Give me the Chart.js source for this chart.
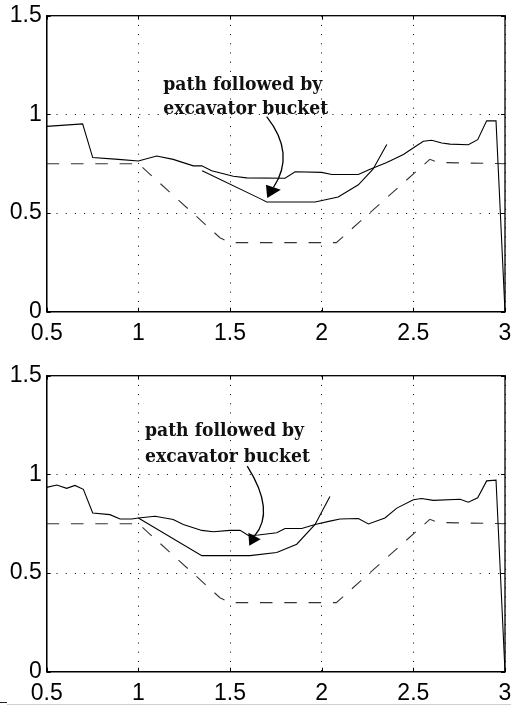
<!DOCTYPE html>
<html>
<head>
<meta charset="utf-8">
<script src="https://cdn.jsdelivr.net/npm/chart.js@4.4.1/dist/chart.umd.min.js"></script>
<style>
  html, body { margin: 0; padding: 0; background: #fff; }
  body { width: 511px; height: 707px; overflow: hidden; position: relative; }
  .plot { position: absolute; left: 0; width: 518px; height: 343px; }
  #p1 { top: 0; }
  #p2 { top: 360px; }
  .edge { position: absolute; top: 704px; left: 7px; width: 504px; height: 1px; background: #cfcfcf; }
  .nub { position: absolute; top: 702px; left: 0; width: 7px; height: 1px; background: #222; }
</style>
</head>
<body>
<div class="plot" id="p1"><canvas id="c1" width="518" height="343"></canvas></div>
<div class="plot" id="p2"><canvas id="c2" width="518" height="343"></canvas></div>
<div class="nub"></div>
<div class="edge"></div>
<script>
// design profile (dashed), same in both plots
const designX = [0.5, 1.0, 1.445, 1.5, 2.08, 2.59, 2.636, 3.0];
const designY = [0.75, 0.75, 0.375, 0.35, 0.35, 0.772, 0.756, 0.75];

// top plot: terrain surface and bucket path
const groundTopX = [0.5, 0.696, 0.751, 0.891, 1.0, 1.10, 1.19, 1.30, 1.346, 1.40, 1.518, 1.591, 1.80, 1.855, 2.0, 2.055, 2.20, 2.264, 2.355, 2.446, 2.509, 2.555, 2.60, 2.655, 2.70, 2.80, 2.851, 2.90, 2.951, 3.0];
const groundTopY = [0.939, 0.952, 0.781, 0.772, 0.764, 0.789, 0.772, 0.739, 0.739, 0.714, 0.686, 0.678, 0.676, 0.709, 0.706, 0.695, 0.695, 0.722, 0.756, 0.797, 0.836, 0.864, 0.869, 0.855, 0.849, 0.846, 0.872, 0.967, 0.967, 0];
const pathTopX = [1.348, 1.664, 1.70, 1.964, 2.09, 2.20, 2.28, 2.355];
const pathTopY = [0.714, 0.573, 0.556, 0.556, 0.581, 0.643, 0.722, 0.847];

// bottom plot
const groundBotX = [0.5, 0.555, 0.609, 0.654, 0.70, 0.751, 0.845, 0.90, 0.964, 1.0, 1.091, 1.19, 1.245, 1.346, 1.409, 1.50, 1.555, 1.60, 1.654, 1.755, 1.80, 1.891, 1.964, 2.045, 2.10, 2.20, 2.255, 2.345, 2.41, 2.50, 2.545, 2.609, 2.755, 2.80, 2.851, 2.90, 2.951, 3.0];
const groundBotY = [0.934, 0.946, 0.929, 0.944, 0.924, 0.804, 0.796, 0.774, 0.774, 0.779, 0.788, 0.771, 0.746, 0.716, 0.709, 0.716, 0.716, 0.69, 0.693, 0.704, 0.726, 0.726, 0.746, 0.763, 0.774, 0.776, 0.749, 0.779, 0.829, 0.871, 0.878, 0.868, 0.874, 0.859, 0.881, 0.967, 0.971, 0];
const pathBotX = [1.0, 1.346, 1.609, 1.755, 1.864, 1.964, 2.045];
const pathBotY = [0.779, 0.588, 0.588, 0.604, 0.646, 0.746, 0.888];

const xTicks = [0.5, 1, 1.5, 2, 2.5, 3];
const yTicks = [0, 0.5, 1, 1.5];
const noteLines = ['path followed by', 'excavator bucket'];
const noteWidths = [159, 165];

function pts(xs, ys){ return xs.map((x, i) => ({x: x, y: ys[i]})); }

// text + curved arrow, placed in data units
const notes = {
  c1: { x: 1.136, y: [1.123, 1.003], s: [1.700, 0.989], c: [1.859, 0.802], e: [1.737, 0.630],
        tri: [[1.696, 0.643], [1.777, 0.618], [1.703, 0.576]] },
  c2: { x: 1.036, y: [1.195, 1.065], s: [1.594, 1.042], c: [1.749, 0.814], e: [1.634, 0.688],
        tri: [[1.600, 0.704], [1.667, 0.671], [1.605, 0.638]] }
};

const framePlugin = {
  id: 'frame',
  afterDatasetsDraw(chart){
    const ctx = chart.ctx, a = chart.chartArea, sx = chart.scales.x, sy = chart.scales.y;
    const n = notes[chart.canvas.id];
    const P = (p) => [sx.getPixelForValue(p[0]), sy.getPixelForValue(p[1])];
    ctx.save();
    // annotation text
    ctx.fillStyle = '#111';
    ctx.font = 'bold 19px "DejaVu Serif"';
    ctx.textAlign = 'left';
    ctx.textBaseline = 'alphabetic';
    noteLines.forEach((t, i) => ctx.fillText(t, sx.getPixelForValue(n.x), sy.getPixelForValue(n.y[i]), noteWidths[i]));
    // arrow
    const s = P(n.s), c = P(n.c), e = P(n.e);
    ctx.strokeStyle = '#000';
    ctx.lineWidth = 1.3;
    ctx.beginPath();
    ctx.moveTo(s[0], s[1]);
    ctx.quadraticCurveTo(c[0], c[1], e[0], e[1]);
    ctx.stroke();
    ctx.fillStyle = '#000';
    ctx.beginPath();
    n.tri.forEach((p, i) => { const q = P(p); i ? ctx.lineTo(q[0], q[1]) : ctx.moveTo(q[0], q[1]); });
    ctx.closePath();
    ctx.fill();
    // box and inward ticks
    ctx.lineWidth = 1.3;
    ctx.strokeRect(a.left, a.top, a.right - a.left, a.bottom - a.top);
    ctx.lineWidth = 1;
    ctx.beginPath();
    xTicks.forEach(v => {
      const px = Math.round(sx.getPixelForValue(v)) + 0.5;
      ctx.moveTo(px, a.top); ctx.lineTo(px, a.top + 4);
      ctx.moveTo(px, a.bottom); ctx.lineTo(px, a.bottom - 4);
    });
    yTicks.forEach(v => {
      const py = Math.round(sy.getPixelForValue(v)) + 0.5;
      ctx.moveTo(a.left, py); ctx.lineTo(a.left + 4, py);
      ctx.moveTo(a.right, py); ctx.lineTo(a.right - 4, py);
    });
    ctx.stroke();
    ctx.restore();
  }
};

function makeChart(id, gx, gy, px, py){
  const tickFont = { family: '"Liberation Sans", Arial, sans-serif', size: 23, lineHeight: 0.93 };
  return new Chart(document.getElementById(id), {
    type: 'scatter',
    data: {
      datasets: [
        { data: pts(gx, gy), showLine: true, borderColor: '#000', borderWidth: 1.1, pointRadius: 0 },
        { data: pts(px, py), showLine: true, borderColor: '#000', borderWidth: 1.1, pointRadius: 0 },
        { data: pts(designX, designY), showLine: true, borderColor: '#333', borderWidth: 1.1, borderDash: [12.5, 11.8], pointRadius: 0 }
      ]
    },
    options: {
      responsive: false,
      animation: false,
      devicePixelRatio: 1,
      layout: { padding: { top: 10.7, right: 13, left: 0, bottom: 0 } },
      plugins: { legend: { display: false }, tooltip: { enabled: false } },
      scales: {
        x: {
          type: 'linear', min: 0.5, max: 3,
          afterBuildTicks: s => { s.ticks = xTicks.map(v => ({value: v})); },
          afterFit: s => { s.height = 31.3; s.paddingLeft = 0; s.paddingRight = 0; },
          grid: { color: '#000', lineWidth: 1, drawTicks: false },
          border: { display: true, color: '#000', width: 1.3, dash: [1, 8.2] },
          ticks: { color: '#000', font: tickFont, padding: 11, maxRotation: 0, autoSkip: false,
                   callback: v => String(v) }
        },
        y: {
          type: 'linear', min: 0, max: 1.5,
          afterBuildTicks: s => { s.ticks = yTicks.map(v => ({value: v})); },
          afterFit: s => { s.width = 46.7; },
          grid: { color: '#000', lineWidth: 1, drawTicks: false },
          border: { display: true, color: '#000', width: 1.3, dash: [1, 8.2] },
          ticks: { color: '#000', font: tickFont, padding: 5, callback: v => String(v) }
        }
      }
    },
    plugins: [framePlugin]
  });
}

makeChart('c1', groundTopX, groundTopY, pathTopX, pathTopY);
makeChart('c2', groundBotX, groundBotY, pathBotX, pathBotY);
</script>
</body>
</html>
